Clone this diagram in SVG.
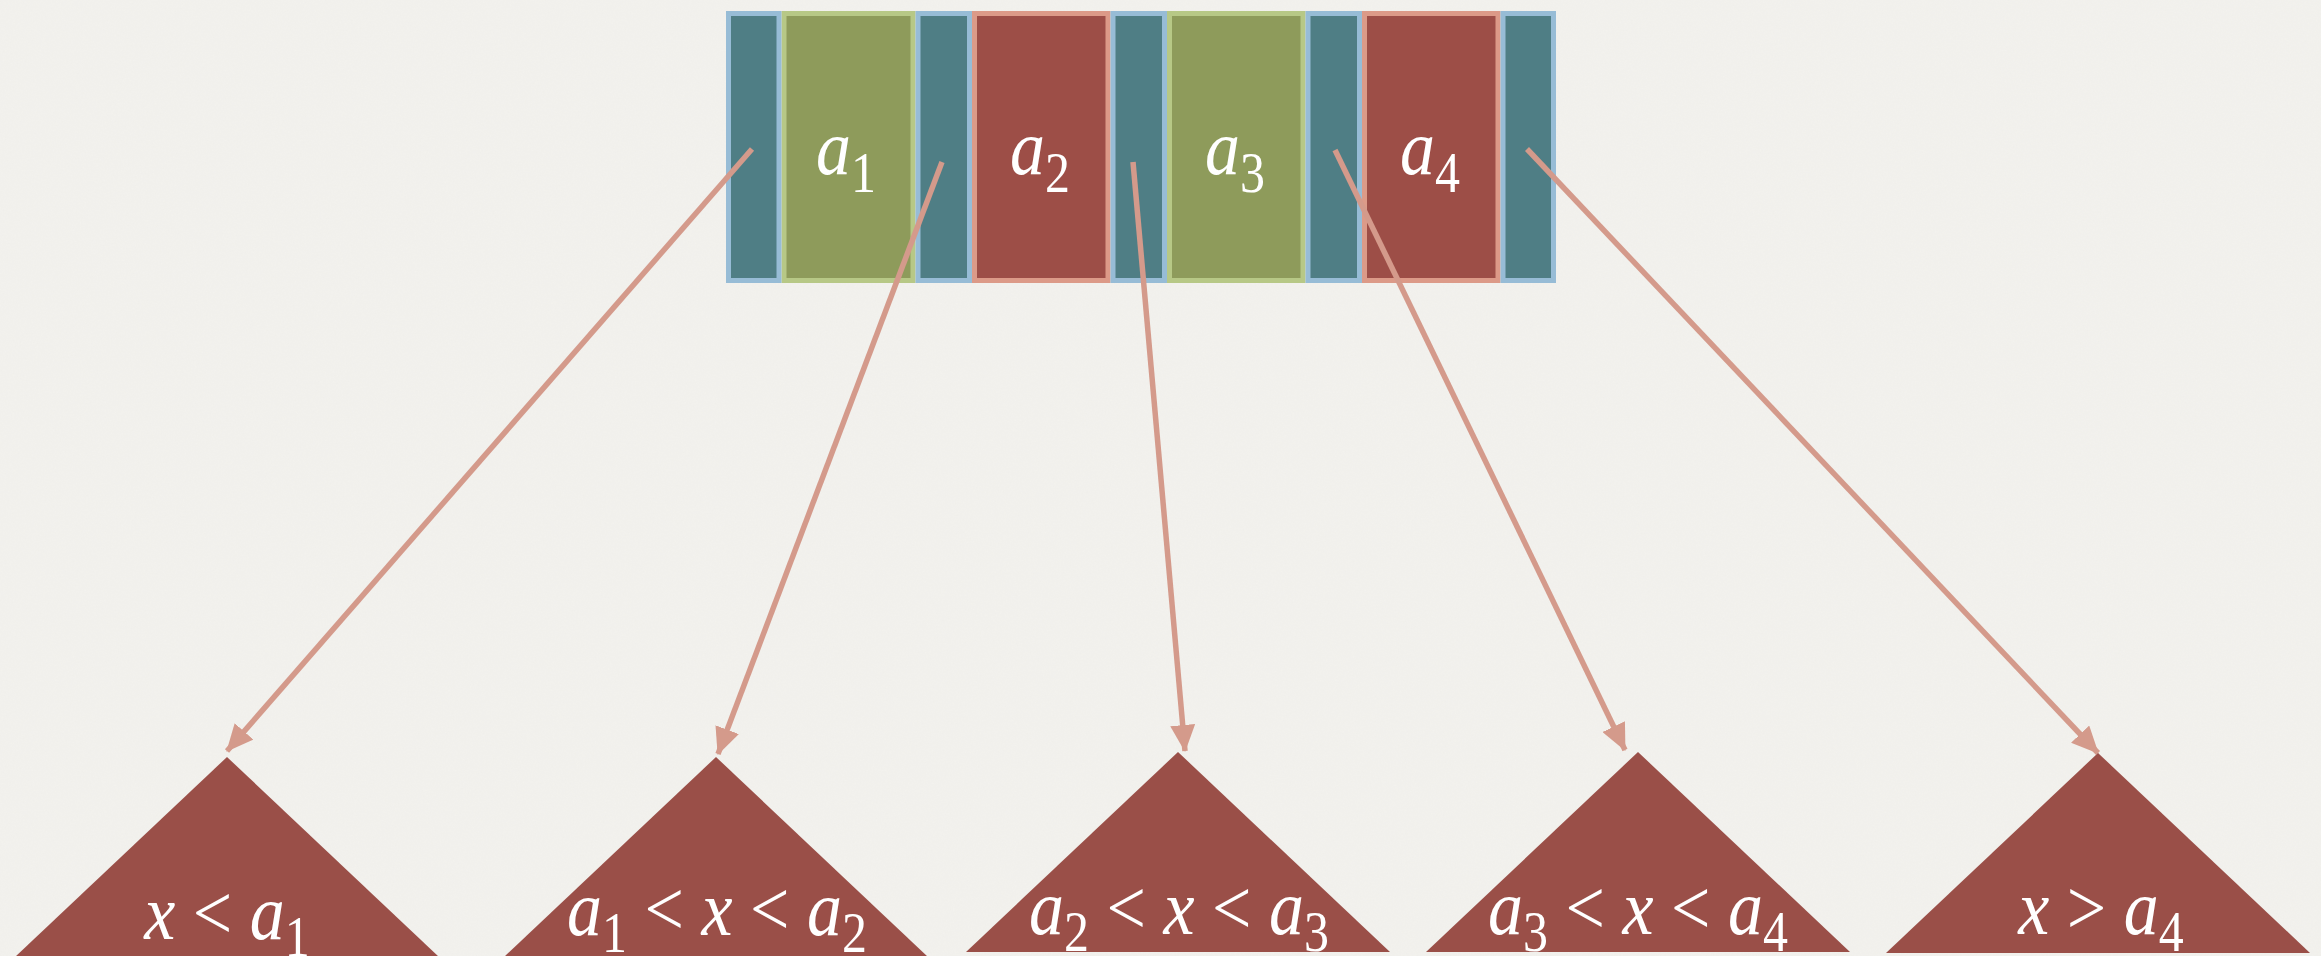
<svg xmlns="http://www.w3.org/2000/svg" width="2321" height="956" viewBox="0 0 2321 956">
<style>
.bg{fill:#f3f2ee}
.teal{fill:#4f7e85;stroke:#97bcd6;stroke-width:5}
.green{fill:#8e9b5b;stroke:#b7c886;stroke-width:5}
.red{fill:#9d4e47;stroke:#dc9a88;stroke-width:5}
.tri{fill:#9a4f48}
.lbl{font-family:"Liberation Serif","Times New Roman",serif;fill:#ffffff;font-size:70px;text-anchor:middle}
.it{font-style:italic}
.sub{font-size:50px}
.edge{stroke:#d49a8b;stroke-width:5.5;fill:none;marker-end:url(#ah)}
</style>
<defs>
<marker id="ah" markerUnits="userSpaceOnUse" markerWidth="27" markerHeight="25" refX="26" refY="12.5" orient="auto" viewBox="0 0 27 25">
<path d="M0,0 L27,12.5 L0,25 z" fill="#d49a8b"/>
</marker>
<filter id="paper" x="0" y="0" width="100%" height="100%">
<feTurbulence type="fractalNoise" baseFrequency="0.6" numOctaves="2" seed="3" result="n"/>
<feColorMatrix in="n" type="matrix" values="0 0 0 0 0.55  0 0 0 0 0.55  0 0 0 0 0.52  0 0 0 0.12 0"/>
</filter>
</defs>
<rect class="bg" x="0" y="0" width="2321" height="956"/>
<rect x="0" y="0" width="2321" height="956" filter="url(#paper)" opacity="0.5"/>
<g id="node-root">
<rect class="green" x="784" y="13.5" width="129" height="267"/>
<rect class="red" x="974.5" y="13.5" width="133.5" height="267"/>
<rect class="green" x="1169.5" y="13.5" width="133.5" height="267"/>
<rect class="red" x="1364.5" y="13.5" width="133.5" height="267"/>
<rect class="teal" x="728.5" y="13.5" width="50.5" height="267"/>
<rect class="teal" x="918" y="13.5" width="51.5" height="267"/>
<rect class="teal" x="1113" y="13.5" width="51.5" height="267"/>
<rect class="teal" x="1308" y="13.5" width="51.5" height="267"/>
<rect class="teal" x="1503" y="13.5" width="50.5" height="267"/>
<text class="lbl" transform="translate(846,174) scale(1,1.12)"><tspan class="it">a</tspan><tspan class="sub" dy="16">1</tspan></text>
<text class="lbl" transform="translate(1040,174) scale(1,1.12)"><tspan class="it">a</tspan><tspan class="sub" dy="16">2</tspan></text>
<text class="lbl" transform="translate(1235,174) scale(1,1.12)"><tspan class="it">a</tspan><tspan class="sub" dy="16">3</tspan></text>
<text class="lbl" transform="translate(1430,174) scale(1,1.12)"><tspan class="it">a</tspan><tspan class="sub" dy="16">4</tspan></text>
</g>
<g id="connectors">
<line class="edge" x1="752" y1="149" x2="227" y2="751"/>
<line class="edge" x1="942" y1="162" x2="718" y2="754"/>
<line class="edge" x1="1133" y1="162" x2="1185" y2="751"/>
<line class="edge" x1="1335" y1="150" x2="1625" y2="750"/>
<line class="edge" x1="1527" y1="149" x2="2098" y2="753"/>
</g>
<g id="subtree-1">
<polygon class="tri" points="227,757 439,957 15,957"/>
<text class="lbl" transform="translate(227,939) scale(1,1.12)"><tspan class="it">x</tspan> &lt; <tspan class="it">a</tspan><tspan class="sub" dy="15">1</tspan></text>
</g>
<g id="subtree-2">
<polygon class="tri" points="716,757 928,957 504,957"/>
<text class="lbl" transform="translate(717,935) scale(1,1.12)"><tspan class="it">a</tspan><tspan class="sub" dy="15">1</tspan><tspan dy="-15"> &lt; </tspan><tspan class="it">x</tspan> &lt; <tspan class="it">a</tspan><tspan class="sub" dy="15">2</tspan></text>
</g>
<g id="subtree-3">
<polygon class="tri" points="1178,752 1390,952 966,952"/>
<text class="lbl" transform="translate(1179,934) scale(1,1.12)"><tspan class="it">a</tspan><tspan class="sub" dy="15">2</tspan><tspan dy="-15"> &lt; </tspan><tspan class="it">x</tspan> &lt; <tspan class="it">a</tspan><tspan class="sub" dy="15">3</tspan></text>
</g>
<g id="subtree-4">
<polygon class="tri" points="1638,752 1850,952 1426,952"/>
<text class="lbl" transform="translate(1638,934) scale(1,1.12)"><tspan class="it">a</tspan><tspan class="sub" dy="15">3</tspan><tspan dy="-15"> &lt; </tspan><tspan class="it">x</tspan> &lt; <tspan class="it">a</tspan><tspan class="sub" dy="15">4</tspan></text>
</g>
<g id="subtree-5">
<polygon class="tri" points="2098,753 2310,953 1886,953"/>
<text class="lbl" transform="translate(2101,934) scale(1,1.12)"><tspan class="it">x</tspan> &gt; <tspan class="it">a</tspan><tspan class="sub" dy="15">4</tspan></text>
</g>
</svg>
